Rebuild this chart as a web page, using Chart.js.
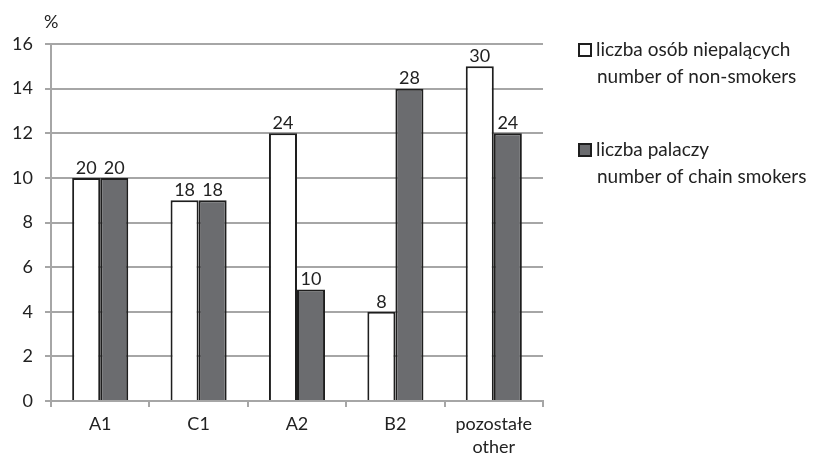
<!DOCTYPE html>
<html>
<head>
<meta charset="utf-8">
<script src="https://cdn.jsdelivr.net/npm/chart.js@4/dist/chart.umd.min.js"></script>
<style>
  html, body { margin: 0; padding: 0; background: #fff; }
  #wrap { width: 818px; height: 456px; position: relative; }
</style>
</head>
<body>
<div id="wrap"><canvas id="c" width="818" height="456"></canvas></div>
<script>
// Categories and respondent counts per group
const categories = ['A1', 'C1', 'A2', 'B2', ['pozostałe', 'other']];
const nonSmokers = [20, 18, 24, 8, 30];
const chainSmokers = [20, 18, 10, 28, 24];
const seriesNames = [
  ['liczba osób niepalących', 'number of non-smokers'],
  ['liczba palaczy', 'number of chain smokers']
];
const yTicks = [0, 2, 4, 6, 8, 10, 12, 14, 16];

// Bar heights are shares (%) of all respondents
const grandTotal = nonSmokers.reduce((a, b) => a + b, 0) + chainSmokers.reduce((a, b) => a + b, 0);
const toPct = arr => arr.map(v => v / grandTotal * 100);

const FONT = 'Lato, "Open Sans", sans-serif';
const TEXT = '#222222';
const GRID = '#a6a6a6';

const countLabels = {
  id: 'countLabels',
  afterDatasetsDraw(chart) {
    const ctx = chart.ctx;
    ctx.save();
    ctx.font = '18px ' + FONT;
    ctx.fillStyle = TEXT;
    ctx.textAlign = 'center';
    ctx.textBaseline = 'bottom';
    chart.data.datasets.forEach((ds, i) => {
      const meta = chart.getDatasetMeta(i);
      meta.data.forEach((bar, j) => {
        ctx.fillText(String(ds.counts[j]), bar.x, bar.y - 1);
      });
    });
    ctx.restore();
  }
};

const extras = {
  id: 'extras',
  afterDraw(chart) {
    const ctx = chart.ctx;
    const area = chart.chartArea;
    ctx.save();
    ctx.fillStyle = TEXT;
    ctx.font = '18px ' + FONT;
    ctx.textBaseline = 'middle';
    ctx.textAlign = 'left';
    ctx.fillText('%', area.left - 7, area.top - 22);
    // legend
    ctx.font = '19px ' + FONT;
    const lx = 579, boxSize = 12;
    const tops = [50, 150];
    chart.data.datasets.forEach((ds, i) => {
      const y = tops[i];
      ctx.fillStyle = ds.backgroundColor;
      ctx.fillRect(lx, y - 6, boxSize, boxSize);
      ctx.lineWidth = 2;
      ctx.strokeStyle = ds.borderColor;
      ctx.strokeRect(lx, y - 6, boxSize, boxSize);
      ctx.fillStyle = TEXT;
      ctx.fillText(seriesNames[i][0], lx + 17, y);
      ctx.fillText(seriesNames[i][1], lx + 18, y + 27);
    });
    ctx.restore();
  }
};

new Chart(document.getElementById('c'), {
  type: 'bar',
  data: {
    labels: categories,
    datasets: [
      {
        label: seriesNames[0].join(' '),
        data: toPct(nonSmokers),
        counts: nonSmokers,
        backgroundColor: '#ffffff',
        borderColor: '#1e1e1e',
        borderWidth: 2,
        borderSkipped: 'bottom'
      },
      {
        label: seriesNames[1].join(' '),
        data: toPct(chainSmokers),
        counts: chainSmokers,
        backgroundColor: '#6b6c6f',
        borderColor: '#1e1e1e',
        borderWidth: 2,
        borderSkipped: 'bottom'
      }
    ]
  },
  options: {
    responsive: false,
    animation: false,
    devicePixelRatio: 1,
    layout: { padding: { left: 0, right: 275, top: 44, bottom: 0 } },
    datasets: { bar: { barPercentage: 1, categoryPercentage: 0.57 } },
    plugins: { legend: { display: false }, tooltip: { enabled: false } },
    scales: {
      x: {
        grid: { display: true, drawOnChartArea: false, drawTicks: true, tickLength: 6, color: GRID, lineWidth: 2, offset: true },
        border: { color: GRID, width: 2 },
        ticks: { color: TEXT, font: { family: FONT, size: 18, lineHeight: 1.25 }, padding: 6, maxRotation: 0, autoSkip: false },
        afterFit(scale) { scale.height = 55; }
      },
      y: {
        min: 0, max: 16,
        afterBuildTicks(scale) { scale.ticks = yTicks.map(v => ({ value: v })); },
        grid: { color: GRID, lineWidth: 2, drawTicks: true, tickLength: 6 },
        border: { color: GRID, width: 2 },
        ticks: { color: TEXT, font: { family: FONT, size: 18 }, padding: 12 },
        afterFit(scale) { scale.width = 51; }
      }
    }
  },
  plugins: [countLabels, extras]
});
</script>
</body>
</html>
